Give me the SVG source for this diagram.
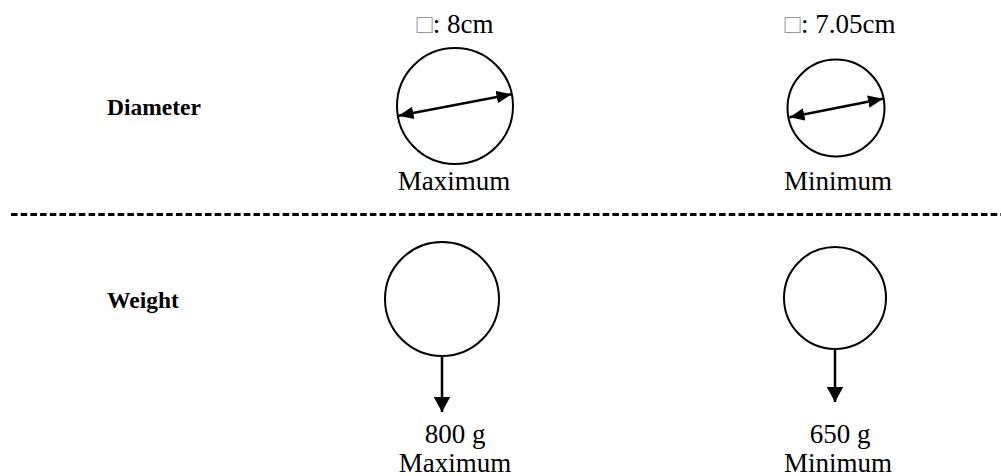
<svg xmlns="http://www.w3.org/2000/svg" width="1001" height="476" viewBox="0 0 1001 476">
<style>
text{font-family:"Liberation Serif","Times New Roman",serif;fill:#000}
.lbl{font-size:23.5px;font-weight:bold}
.t{font-size:27px;text-anchor:middle}
.tofu{fill:#999}
.c{fill:#fff;stroke:#000;stroke-width:2}
.ln{stroke:#000;stroke-width:2.5;fill:none}
</style>
<defs>
<marker id="ah" viewBox="0 0 10 10" refX="10" refY="5" markerWidth="6" markerHeight="5" markerUnits="strokeWidth" orient="auto-start-reverse" preserveAspectRatio="none">
<path d="M0,0 L10,5 L0,10 z" fill="#000"/>
</marker>
<marker id="ahv" viewBox="0 0 10 10" refX="10" refY="5" markerWidth="6.2" markerHeight="6.8" markerUnits="strokeWidth" orient="auto" preserveAspectRatio="none">
<path d="M0,0 L10,5 L0,10 z" fill="#000"/>
</marker>
</defs>
<rect width="1001" height="476" fill="#fff"/>
<g id="label-diameter"><text class="lbl" x="107" y="115">Diameter</text></g>
<g id="label-weight"><text class="lbl" x="107" y="308">Weight</text></g>
<g id="diam-max">
<text class="t" x="455" y="33"><tspan class="tofu">□</tspan>: 8cm</text>
<circle class="c" cx="455" cy="106" r="58"/>
<text class="t" x="454" y="190">Maximum</text>
</g>
<g id="diam-min">
<text class="t" x="840" y="33"><tspan class="tofu">□</tspan>: 7.05cm</text>
<circle class="c" cx="836" cy="108" r="48.5"/>
<text class="t" x="838" y="190">Minimum</text>
</g>
<g id="weight-max">
<circle class="c" cx="442" cy="299" r="57"/>
<text class="t" x="455" y="443">800 g</text>
<text class="t" x="455" y="472">Maximum</text>
</g>
<g id="weight-min">
<circle class="c" cx="835" cy="298" r="51"/>
<text class="t" x="840" y="443">650 g</text>
<text class="t" x="838" y="472">Minimum</text>
</g>
<g id="connectors">
<line x1="11" y1="214.5" x2="1001" y2="214.5" stroke="#000" stroke-width="3" stroke-dasharray="6.5,3.2"/>
<line class="ln" x1="398.5" y1="115.7" x2="511.5" y2="94.3" marker-start="url(#ah)" marker-end="url(#ah)"/>
<line class="ln" x1="789.5" y1="117.3" x2="883" y2="98.7" marker-start="url(#ah)" marker-end="url(#ah)"/>
<line class="ln" x1="442" y1="356" x2="442" y2="412" marker-end="url(#ahv)"/>
<line class="ln" x1="835" y1="349" x2="835" y2="402" marker-end="url(#ahv)"/>
</g>
</svg>
